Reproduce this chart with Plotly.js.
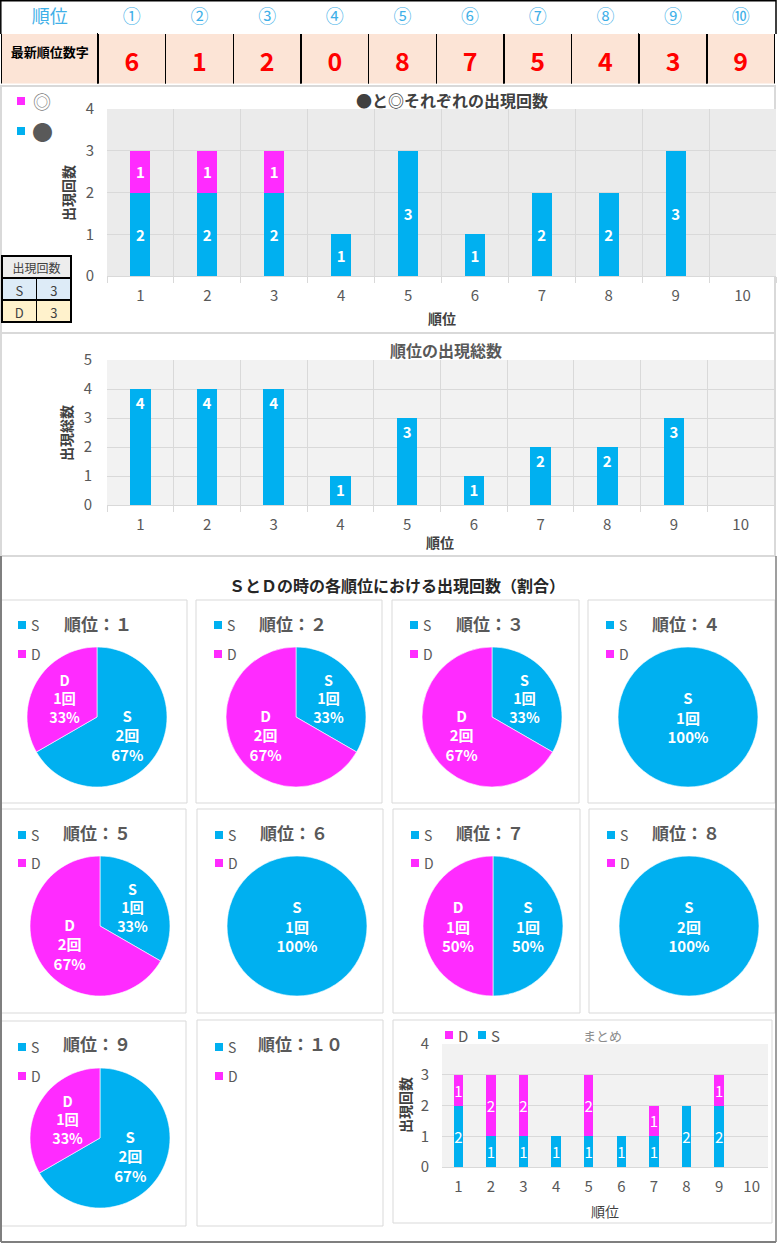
<!DOCTYPE html>
<html><head><meta charset="utf-8">
<script src="https://cdn.plot.ly/plotly-3.0.1.min.js"></script>
<style>html,body{margin:0;padding:0;background:#fff}#chart{width:777px;height:1243px}</style>
</head><body><div id="chart"></div>
<script>
// ---------------- data ----------------
const ranks = ['1','2','3','4','5','6','7','8','9','10'];
const headerLabels = ['順位','①','②','③','④','⑤','⑥','⑦','⑧','⑨','⑩'];
const latestRowLabel = '最新順位数字';
const latestDigits = ['6','1','2','0','8','7','5','4','3','9'];
const circleCounts = [2,2,2,1,3,1,2,2,3,0];              // ●
const doubleCircleCounts = [1,1,1,null,null,null,null,null,null,null]; // ◎
const totalCounts = [4,4,4,1,3,1,2,2,3,0];
const sdLabels = ['S','D'];
const sdTotals = ['3','3'];
const sCounts = [2,1,1,1,1,1,1,2,2,0];
const dCounts = [1,2,2,0,2,0,1,0,1,0];
const pieTitles = ['順位：１','順位：２','順位：３','順位：４','順位：５','順位：６','順位：７','順位：８','順位：９','順位：１０'];

// ---------------- helpers ----------------
const W = 777, H = 1243;
const X = p => p / W;
const Y = p => 1 - p / H;
const F = '"Noto Sans CJK JP", "Noto Sans", sans-serif';
const NARROW = '"Liberation Sans Narrow", "Noto Sans CJK JP", sans-serif';
const BLUE = '#00b0f0', MAG = '#ff2bff', TXT = '#595959';

const traces = [];
const annotations = [];
const frames = [];
const shapes = [];

function ann(x, y, text, size, color, extra) {
  annotations.push(Object.assign({
    xref: 'paper', yref: 'paper', x: X(x), y: Y(y), text: text, showarrow: false,
    xanchor: 'center', yanchor: 'middle', font: {family: F, size: size, color: color}
  }, extra || {}));
}
function rect(list, x0, y0, x1, y1, line, fill, w) {
  list.push({type: 'rect', xref: 'paper', yref: 'paper', x0: X(x0), x1: X(x1), y0: Y(y1), y1: Y(y0),
    line: {color: line, width: w === undefined ? 1 : w}, fillcolor: fill || 'rgba(0,0,0,0)', layer: 'below'});
}
function line(x0, y0, x1, y1, color, w) {
  shapes.push({type: 'line', xref: 'paper', yref: 'paper', x0: X(x0), x1: X(x1), y0: Y(y0), y1: Y(y1),
    line: {color: color, width: w}, layer: 'above'});
}
function legendItem(x, y, color, label, size) {
  shapes.push({type: 'rect', xref: 'paper', yref: 'paper', x0: X(x), x1: X(x + 8), y0: Y(y + 4), y1: Y(y - 4),
    line: {width: 0}, fillcolor: color, layer: 'above'});
  ann(x + 11, y, label, size || 14, TXT, {xanchor: 'left'});
}

// ---------------- block frames ----------------
rect(frames, 1, 86, 775, 333, '#d9d9d9', '#ffffff', 2);
rect(frames, 1, 333, 775, 556, '#d9d9d9', '#ffffff', 2);

// ---------------- top table ----------------
traces.push({
  type: 'table',
  domain: {x: [X(1.5), X(775)], y: [Y(84), Y(1.5)]},
  columnwidth: [97, 68, 68, 68, 68, 68, 68, 68, 68, 68, 68],
  header: {
    values: headerLabels.map(v => [v]),
    height: 32, align: 'center',
    fill: {color: '#ffffff'}, line: {color: '#ffffff', width: 1},
    font: {family: F, size: 18, color: '#3fb0e8'}
  },
  cells: {
    values: [[ '<b>' + latestRowLabel + '</b>' ]].concat(latestDigits.map(d => ['<b>' + d + '</b>'])),
    height: 52, align: 'center',
    fill: {color: '#fce4d6'}, line: {color: '#000000', width: 1.5},
    font: {family: [F].concat(latestDigits.map(() => NARROW)),
           size: [13].concat(latestDigits.map(() => 25)),
           color: ['#000000'].concat(latestDigits.map(() => '#ff0000'))}
  }
});
line(0, 0.8, 776, 0.8, '#000', 1.5);
line(0.8, 0, 0.8, 34, '#000', 1.5);
line(776, 0, 776, 34, '#000', 1.5);

// ---------------- small S/D table ----------------
traces.push({
  type: 'table',
  domain: {x: [X(2), X(71)], y: [Y(278), Y(256)]},
  header: {values: [['出現回数']], height: 22, align: 'center', fill: {color: '#ededed'},
           line: {color: '#000', width: 1.5}, font: {family: F, size: 12, color: '#404040'}},
  cells: {values: [[]], height: 0}
});
traces.push({
  type: 'table',
  domain: {x: [X(2), X(71)], y: [Y(324), Y(278)]},
  columnwidth: [1, 1],
  header: {values: [[sdLabels[0]], [sdTotals[0]]], height: 22, align: 'center', fill: {color: '#ddebf7'},
           line: {color: '#000', width: 1.5}, font: {family: F, size: 13, color: '#404040'}},
  cells: {values: [[sdLabels[1]], [sdTotals[1]]], height: 22, align: 'center', fill: {color: '#fff2cc'},
          line: {color: '#000', width: 1.5}, font: {family: F, size: 13, color: '#404040'}}
});

// ---------------- chart 1 ----------------
const barText = {family: F, size: 15, color: '#ffffff', weight: 'bold'};
traces.push({type: 'bar', x: ranks, y: circleCounts, xaxis: 'x', yaxis: 'y', width: 0.3,
  marker: {color: BLUE}, texttemplate: '%{y}', textposition: 'inside', insidetextanchor: 'middle',
  textfont: barText, hoverinfo: 'none'});
traces.push({type: 'bar', x: ranks, y: doubleCircleCounts, xaxis: 'x', yaxis: 'y', width: 0.3,
  marker: {color: MAG}, texttemplate: '%{y}', textposition: 'inside', insidetextanchor: 'middle',
  textfont: barText, hoverinfo: 'none'});
ann(452, 100, '<b>●と◎それぞれの出現回数</b>', 16, '#404040');
ann(442, 318, '<b>順位</b>', 14, '#404040');
ann(68, 193, '<b>出現回数</b>', 14, '#404040', {textangle: -90});
shapes.push({type: 'rect', xref: 'paper', yref: 'paper', x0: X(17), x1: X(25), y0: Y(105), y1: Y(97), line: {width: 0}, fillcolor: MAG});
ann(31, 101, '◎', 18, '#7f7f7f', {xanchor: 'left'});
shapes.push({type: 'rect', xref: 'paper', yref: 'paper', x0: X(17), x1: X(25), y0: Y(135), y1: Y(127), line: {width: 0}, fillcolor: BLUE});
ann(30, 131, '●', 21, TXT, {xanchor: 'left'});

// ---------------- chart 2 ----------------
traces.push({type: 'bar', x: ranks, y: totalCounts, xaxis: 'x2', yaxis: 'y2', width: 0.31,
  marker: {color: BLUE}, texttemplate: '%{y}', textposition: 'inside', insidetextanchor: 'end',
  textfont: {family: F, size: 15, color: '#ffffff', weight: 'bold'}, hoverinfo: 'none'});
ann(446, 350, '<b>順位の出現総数</b>', 16, TXT);
ann(440, 542, '<b>順位</b>', 14, '#404040');
ann(66, 433, '<b>出現総数</b>', 14, '#404040', {textangle: -90});

// ---------------- pie section ----------------
line(1, 556, 1, 1242, '#7f7f7f', 2);
line(1, 1242, 776, 1242, '#7f7f7f', 2);
line(776, 556, 776, 1242, '#7f7f7f', 1.5);
ann(397, 585, '<b>ＳとＤの時の各順位における出現回数（割合）</b>', 16, '#262626');

const panelBoxes = [
  [0,600,187,803],[196,600,382,803],[392,600,579,803],[588,600,775,803],
  [0,809,186,1013],[197,809,383,1013],[393,809,580,1013],[589,809,775,1013],
  [0,1021,186,1226],[197,1020,383,1226]
];
const pieCenters = [
  [97,717],[296,717],[492,717],[688,717],
  [100,926],[297,926],[493,926],[689,926],
  [100,1138],[297,1138]
];
const titleY = [623,623,623,623,832,832,832,832,1043,1043];
const legendY = [[625,654],[625,654],[625,654],[625,654],[835,863],[835,863],[835,863],[835,863],[1047,1076],[1047,1076]];
const R = 70;

panelBoxes.forEach((b, i) => {
  rect(frames, b[0], b[1], b[2], b[3], '#d9d9d9', '#ffffff', 1);
  const cx = pieCenters[i][0], cy = pieCenters[i][1];
  const vals = [sCounts[i], dCounts[i]];
  traces.push({
    type: 'pie', labels: sdLabels, values: vals,
    domain: {x: [X(cx - R), X(cx + R)], y: [Y(cy + R), Y(cy - R)]},
    sort: false, direction: 'clockwise', rotation: 0,
    marker: {colors: [BLUE, MAG], line: {color: '#ffffff', width: vals.map(v => v > 0 ? 0.6 : 0)}},
    texttemplate: '%{label}<br>%{value}回<br>%{percent:.0%}',
    textposition: 'inside', insidetextorientation: 'horizontal',
    textfont: {family: F, size: 15, color: '#ffffff', weight: 'bold'},
    hoverinfo: 'none', showlegend: false
  });
  const tx = (b[0] + b[2]) / 2 + (i === 9 ? 10 : 4);
  ann(tx, titleY[i], '<b>' + pieTitles[i] + '</b>', 17, TXT);
  legendItem(b[0] + 18, legendY[i][0], BLUE, sdLabels[0], 14);
  legendItem(b[0] + 18, legendY[i][1], MAG, sdLabels[1], 14);
});

// ---------------- summary chart ----------------
rect(frames, 393, 1020, 772, 1223, '#d9d9d9', '#ffffff', 1);
const sumText = {family: F, size: 15, color: '#ffffff'};
traces.push({type: 'bar', x: ranks, y: sCounts, xaxis: 'x3', yaxis: 'y3', width: 0.29,
  marker: {color: BLUE}, texttemplate: '%{y}', textposition: 'inside', insidetextanchor: 'middle',
  constraintext: 'none', textfont: sumText, hoverinfo: 'none'});
traces.push({type: 'bar', x: ranks, y: dCounts, xaxis: 'x3', yaxis: 'y3', width: 0.29,
  marker: {color: MAG}, texttemplate: '%{y}', textposition: 'inside', insidetextanchor: 'middle',
  constraintext: 'none', textfont: sumText, hoverinfo: 'none'});
ann(602, 1035, 'まとめ', 13, '#8c8c8c');
ann(605, 1211, '順位', 14, '#404040');
ann(405, 1105, '<b>出現回数</b>', 14, '#404040', {textangle: -90});
legendItem(445, 1035, MAG, 'D', 15);
legendItem(478, 1035, BLUE, 'S', 15);

// ---------------- axes ----------------
const tickFont = {family: F, size: 15, color: TXT};
function xAx(domain, boundaries) {
  return {domain: domain, type: 'category', range: [-0.5, 9.5], fixedrange: true,
    tickson: boundaries ? 'boundaries' : undefined, ticks: boundaries ? 'outside' : '',
    ticklen: 6, tickcolor: '#d9d9d9', showgrid: boundaries, gridcolor: '#d9d9d9',
    showline: true, linecolor: '#d9d9d9', tickfont: tickFont, ticklabelstandoff: 6, zeroline: false};
}
function yAx(domain, max, standoff) {
  return {domain: domain, range: [0, max], dtick: 1, fixedrange: true, showgrid: true,
    gridcolor: '#d9d9d9', zeroline: false, showline: false, ticks: '', tickfont: tickFont,
    ticklabelstandoff: standoff};
}

// plot backgrounds
const backs = [];
rect(backs, 107, 109, 776, 276, 'rgba(0,0,0,0)', '#ebebeb', 0);
rect(backs, 107, 360, 774, 505, 'rgba(0,0,0,0)', '#f2f2f2', 0);
rect(backs, 442, 1044, 768, 1167, 'rgba(0,0,0,0)', '#f2f2f2', 0);

const layout = {
  width: W, height: H, margin: {l: 0, r: 0, t: 0, b: 0}, paper_bgcolor: '#ffffff',
  showlegend: false, barmode: 'stack',
  xaxis: Object.assign(xAx([X(107), X(776)], true), {anchor: 'y'}),
  yaxis: Object.assign(yAx([Y(276), Y(109)], 4, 12), {anchor: 'x'}),
  xaxis2: Object.assign(xAx([X(107), X(774)], true), {anchor: 'y2'}),
  yaxis2: Object.assign(yAx([Y(505), Y(360)], 5, 14), {anchor: 'x2'}),
  xaxis3: Object.assign(xAx([X(442), X(768)], false), {anchor: 'y3'}),
  yaxis3: Object.assign(yAx([Y(1167), Y(1044)], 4, 12), {anchor: 'x3'}),
  annotations: annotations, shapes: frames.concat(backs, shapes), font: {family: F}
};

Plotly.newPlot('chart', traces, layout, {staticPlot: true, displayModeBar: false});
</script>
</body></html>
